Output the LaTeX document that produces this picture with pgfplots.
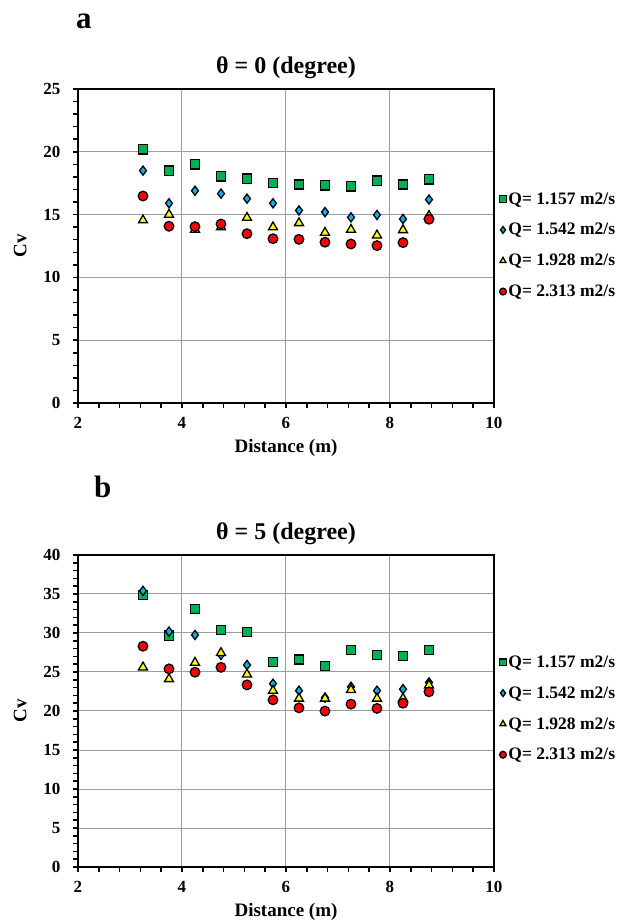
\documentclass[border=0pt]{standalone}
\usepackage{fontspec}
\setmainfont{Liberation Serif}
\usepackage{pgfplots}
\pgfplotsset{compat=1.18}

\definecolor{qgreen}{RGB}{0,176,80}
\definecolor{qblue}{RGB}{0,176,240}
\definecolor{qyellow}{RGB}{255,255,0}
\definecolor{qred}{RGB}{255,0,0}

\pgfplotsset{
  cvaxis/.style={
    scale only axis, width=416pt,
    xmin=2, xmax=10, xtick={2,4,6,8,10}, minor x tick num=4,
    ymin=0, minor y tick num=4,
    grid=major, major grid style={draw=black!38, line width=1pt},
    axis line style={line width=2.2pt},
    tick align=outside, tick pos=left,
    major tick length=5pt, minor tick length=5pt,
    every major tick/.style={black, line width=1.5pt},
    every minor tick/.style={black, line width=1.5pt},
    tick label style={font=\bfseries\fontsize{17}{17}\selectfont},
    xticklabel style={yshift=-6pt},
    yticklabel style={xshift=-9pt},
    /pgf/number format/assume math mode=true,
    xlabel={Distance (m)}, ylabel={Cv},
    label style={font=\bfseries\fontsize{19}{19}\selectfont},
    xlabel style={yshift=-3pt},
    ylabel style={yshift=10pt},
    title style={font=\bfseries\fontsize{24}{24}\selectfont, yshift=1pt},
    legend style={draw=none, fill=none, anchor=north west, inner sep=0pt,
      font=\bfseries\fontsize{17.5}{17.5}\selectfont, row sep=13.7pt},
    legend image post style={mark size=3.4pt},
    legend cell align=left,
  },
  sQa/.style={only marks, mark=square*, mark size=4.6pt,
    mark options={fill=qgreen, draw=black, line width=1.3pt}},
  sQb/.style={only marks, mark=diamond*, mark size=4.6pt,
    mark options={fill=qblue, draw=black, line width=1.3pt}},
  sQc/.style={only marks, mark=triangle*, mark size=5.2pt,
    mark options={fill=qyellow, draw=black, line width=1.3pt}},
  sQd/.style={only marks, mark=*, mark size=4.8pt,
    mark options={fill=qred, draw=black, line width=1.3pt}},
}

\begin{document}
\begin{tikzpicture}
\useasboundingbox (0pt,0pt) rectangle (628pt,922pt);

% panel a: theta = 0
\node[anchor=base west, font=\bfseries\fontsize{31}{31}\selectfont, inner sep=0pt] at (76pt,893pt) {a};
\begin{axis}[cvaxis, at={(78pt,519pt)}, anchor=south west, height=314pt,
  ymax=25, ytick={0,5,...,25},
  title={θ = 0 (degree)},
  legend style={at={(1.013,0.677)}}]
\addplot[sQa] coordinates {(3.25,20.2) (3.75,18.5) (4.25,19.0) (4.75,18.05) (5.25,17.86) (5.75,17.5)
  (6.25,17.4) (6.75,17.33) (7.25,17.25) (7.75,17.7) (8.25,17.4) (8.75,17.8)};
\addplot[sQb] coordinates {(3.25,18.5) (3.75,15.9) (4.25,16.9) (4.75,16.67) (5.25,16.27) (5.75,15.9)
  (6.25,15.33) (6.75,15.2) (7.25,14.78) (7.75,14.97) (8.25,14.65) (8.75,16.2)};
\addplot[sQc] coordinates {(3.25,14.55) (3.75,15.0) (4.25,13.8) (4.75,14.0) (5.25,14.75) (5.75,14.0)
  (6.25,14.33) (6.75,13.56) (7.25,13.8) (7.75,13.35) (8.25,13.77) (8.75,14.9)};
\addplot[sQd] coordinates {(3.25,16.48) (3.75,14.07) (4.25,14.04) (4.75,14.25) (5.25,13.48) (5.75,13.08)
  (6.25,13.03) (6.75,12.8) (7.25,12.66) (7.75,12.53) (8.25,12.77) (8.75,14.63)};
\legend{Q= 1.157 m2/s, Q= 1.542 m2/s, Q= 1.928 m2/s, Q= 2.313 m2/s}
\end{axis}

% panel b: theta = 5
\node[anchor=base west, font=\bfseries\fontsize{31}{31}\selectfont, inner sep=0pt] at (94pt,424pt) {b};
\begin{axis}[cvaxis, at={(78pt,55pt)}, anchor=south west, height=312pt,
  ymax=40, ytick={0,5,...,40},
  title={θ = 5 (degree)},
  legend style={at={(1.013,0.684)}}]
\addplot[sQa] coordinates {(3.25,34.9) (3.75,29.67) (4.25,33.07) (4.75,30.4) (5.25,30.1) (5.75,26.25)
  (6.25,26.6) (6.75,25.74) (7.25,27.83) (7.75,27.19) (8.25,27.02) (8.75,27.83)};
\addplot[sQb] coordinates {(3.25,35.4) (3.75,30.18) (4.25,29.75) (4.75,27.2) (5.25,25.9) (5.75,23.5)
  (6.25,22.6) (6.75,21.7) (7.25,23.1) (7.75,22.6) (8.25,22.8) (8.75,23.66)};
\addplot[sQc] coordinates {(3.25,25.6) (3.75,24.1) (4.25,26.2) (4.75,27.45) (5.25,24.7) (5.75,22.6)
  (6.25,21.6) (6.75,21.6) (7.25,22.7) (7.75,21.6) (8.25,21.6) (8.75,23.3)};
\addplot[sQd] coordinates {(3.25,28.3) (3.75,25.4) (4.25,24.97) (4.75,25.6) (5.25,23.35) (5.75,21.43)
  (6.25,20.4) (6.75,19.99) (7.25,20.88) (7.75,20.33) (8.25,21.0) (8.75,22.46)};
\legend{Q= 1.157 m2/s, Q= 1.542 m2/s, Q= 1.928 m2/s, Q= 2.313 m2/s}
\end{axis}
\end{tikzpicture}
\end{document}
